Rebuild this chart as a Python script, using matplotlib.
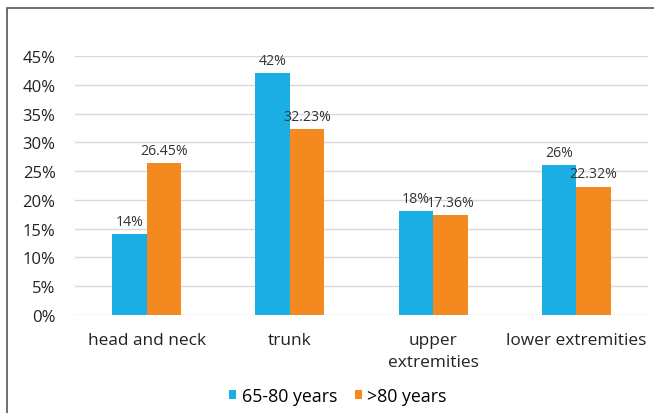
import matplotlib.pyplot as plt
import numpy as np
from matplotlib.patches import Rectangle

categories = ['head and neck', 'trunk', 'upper\nextremities', 'lower extremities']
age_65_80 = [14, 42, 18, 26]
age_80_plus = [26.45, 32.23, 17.36, 22.32]
labels_65_80 = ['14%', '42%', '18%', '26%']
labels_80_plus = ['26.45%', '32.23%', '17.36%', '22.32%']

plt.rcParams['font.family'] = ['Open Sans', 'DejaVu Sans']

fig = plt.figure(figsize=(6.54, 4.14), dpi=100)
ax = fig.add_axes([75 / 654, 1 - 316 / 414, 573 / 654, (316 - 57) / 414])

x = np.arange(len(categories))
w = 0.24
b1 = ax.bar(x - w / 2, age_65_80, w, color='#1AAEE5', label='65-80 years', zorder=3)
b2 = ax.bar(x + w / 2, age_80_plus, w, color='#F4891F', label='>80 years', zorder=3)

for rect, t in zip(b1, labels_65_80):
    ax.text(rect.get_x() + rect.get_width() / 2, rect.get_height() + 0.9, t,
            ha='center', va='bottom', fontsize=10.2, color='#333333')
for rect, t in zip(b2, labels_80_plus):
    ax.text(rect.get_x() + rect.get_width() / 2, rect.get_height() + 0.9, t,
            ha='center', va='bottom', fontsize=10.2, color='#333333')

ax.set_ylim(0, 45)
ax.set_xlim(-0.5, 3.5)
ax.set_yticks(np.arange(0, 46, 5))
ax.set_yticklabels([f'{v}%' for v in range(0, 46, 5)], fontsize=12, color='#222222')
ax.set_xticks(x)
ax.set_xticklabels(categories, fontsize=12.4, color='#222222', linespacing=1.55)
ax.tick_params(axis='y', length=0, pad=14)
ax.tick_params(axis='x', length=0, pad=12)
ax.yaxis.grid(True, color='#d9d9d9', linewidth=1, zorder=0)
for s in ax.spines.values():
    s.set_visible(False)

fig.legend(handles=[b1, b2], loc='center', bbox_to_anchor=(338 / 654, 1 - 397 / 414), ncol=2,
           frameon=False, fontsize=12.8, handlelength=0.4, handleheight=0.4,
           handletextpad=0.3, columnspacing=1.0)

fig.patches.append(Rectangle((7 / 654, -0.1), 1.2, 1 - 9 / 414 + 0.1, transform=fig.transFigure,
                             fill=False, edgecolor='#555555', linewidth=1.2))

fig.savefig('out.png', dpi=100)
